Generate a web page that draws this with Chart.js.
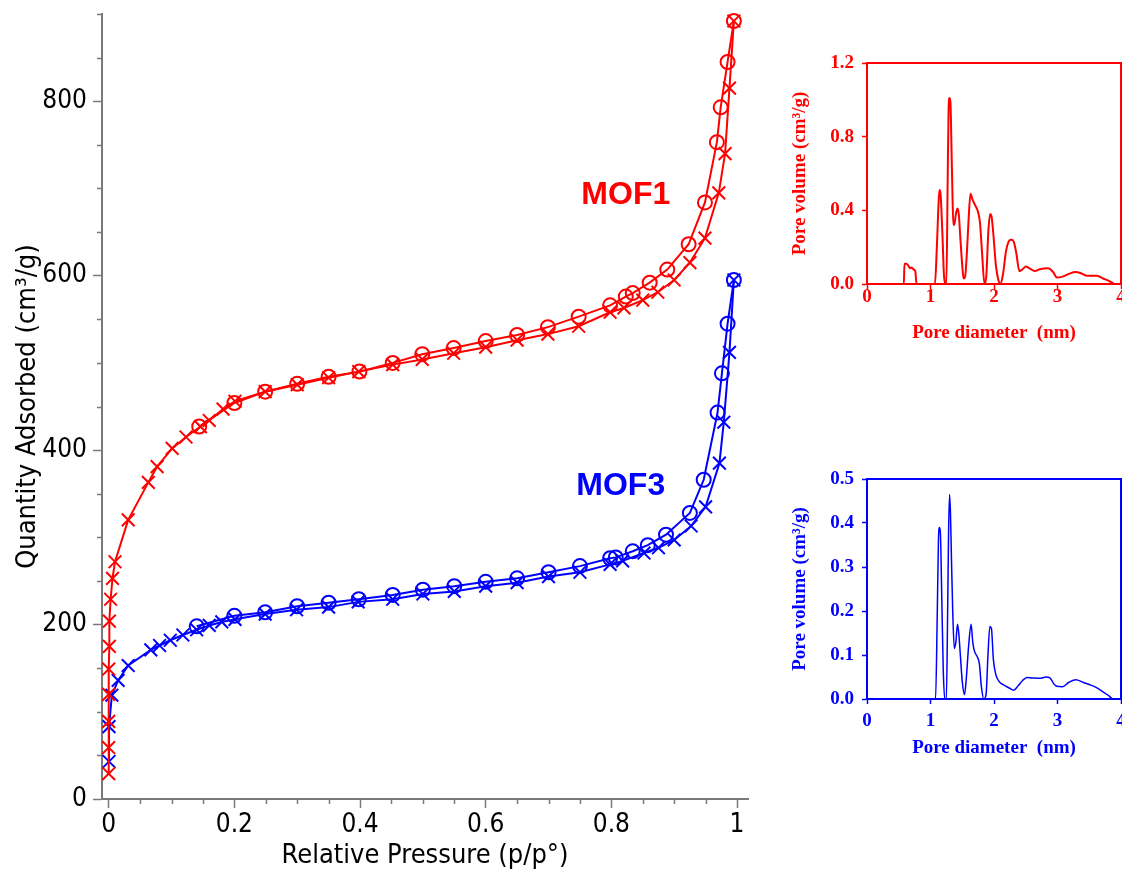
<!DOCTYPE html>
<html>
<head>
<meta charset="utf-8">
<script src="https://cdn.jsdelivr.net/npm/chart.js@4.4.1/dist/chart.umd.min.js"></script>
<style>
  html, body { margin: 0; padding: 0; background: #fff; }
  #wrap { position: relative; width: 1122px; height: 872px; overflow: hidden; }
  canvas { position: absolute; }
  #main { left: 0; top: 0; }
  #pore1 { left: 760px; top: 40px; }
  #pore3 { left: 760px; top: 460px; }
</style>
</head>
<body>
<div id="wrap">
  <canvas id="main" width="760" height="872"></canvas>
  <canvas id="pore1" width="362" height="310"></canvas>
  <canvas id="pore3" width="362" height="310"></canvas>
</div>
<script>
// ---- isotherm data (relative pressure / quantity adsorbed) ----
const mof1AdsP = [0, 0, 0, 0, 0, 0.001, 0.001, 0.003, 0.006, 0.010, 0.031, 0.063, 0.077, 0.101, 0.123, 0.146, 0.160, 0.182, 0.201, 0.249, 0.300, 0.350, 0.398, 0.452, 0.499, 0.549, 0.600, 0.650, 0.699, 0.748, 0.798, 0.820, 0.850, 0.874, 0.900, 0.925, 0.949, 0.971, 0.981, 0.988, 0.995];
const mof1AdsQ = [29, 59, 89, 120, 149, 175, 204, 229, 253, 272, 320, 363, 381, 402, 415, 427, 434, 447, 456, 467, 475, 483, 490, 498, 504, 511, 518, 526, 533, 542, 558, 563, 572, 581, 595, 615, 643, 695, 740, 815, 892];

const mof1DesP = [0.995, 0.985, 0.974, 0.968, 0.949, 0.923, 0.889, 0.861, 0.834, 0.823, 0.798, 0.748, 0.699, 0.650, 0.600, 0.549, 0.499, 0.452, 0.399, 0.350, 0.300, 0.249, 0.200, 0.144];
const mof1DesQ = [892, 845, 793, 753, 684, 636, 607, 592, 580, 576, 566, 553, 541, 532, 525, 517, 510, 500, 490, 484, 476, 467, 454, 427];

const mof3AdsP = [0.0005, 0.0005, 0.005, 0.015, 0.031, 0.067, 0.081, 0.098, 0.118, 0.140, 0.160, 0.180, 0.201, 0.249, 0.299, 0.350, 0.397, 0.452, 0.500, 0.550, 0.600, 0.650, 0.700, 0.750, 0.798, 0.818, 0.852, 0.875, 0.900, 0.927, 0.950, 0.972, 0.979, 0.988, 0.995];
const mof3AdsQ = [43, 83, 119, 136, 153, 171, 176, 182, 188, 194, 199, 203, 206, 212, 217, 220, 226, 229, 235, 238, 244, 248, 255, 260, 269, 273, 282, 288, 297, 313, 335, 385, 432, 512, 595];

const mof3DesP = [0.995, 0.985, 0.976, 0.969, 0.947, 0.925, 0.887, 0.858, 0.834, 0.807, 0.798, 0.750, 0.700, 0.650, 0.600, 0.550, 0.500, 0.452, 0.398, 0.350, 0.300, 0.249, 0.200, 0.140];
const mof3DesQ = [595, 545, 488, 443, 366, 328, 303, 291, 284, 277, 276, 267, 260, 253, 249, 244, 240, 234, 229, 225, 221, 214, 210, 198];

const pressureTicks = [0, 0.2, 0.4, 0.6, 0.8, 1];
const quantityTicks = [0, 200, 400, 600, 800];

// ---- pore size distributions ----
const pore1D = [0, 0.58, 0.59, 0.62, 0.65, 0.68, 0.70, 0.73, 0.76, 0.78, 1.07, 1.10, 1.12, 1.14, 1.155, 1.17, 1.19, 1.21, 1.23, 1.25, 1.27, 1.285, 1.30, 1.315, 1.33, 1.345, 1.36, 1.38, 1.40, 1.425, 1.445, 1.47, 1.50, 1.52, 1.545, 1.57, 1.60, 1.63, 1.66, 1.70, 1.75, 1.78, 1.81, 1.85, 1.88, 1.91, 1.94, 1.96, 1.99, 2.03, 2.07, 2.10, 2.14, 2.19, 2.23, 2.27, 2.31, 2.35, 2.40, 2.45, 2.50, 2.56, 2.64, 2.72, 2.85, 2.93, 2.99, 3.08, 3.18, 3.28, 3.36, 3.46, 3.62, 3.72, 3.82, 3.90, 4.0];
const pore1V = [0, 0, 0.11, 0.11, 0.10, 0.085, 0.09, 0.08, 0.07, 0, 0, 0.2, 0.38, 0.51, 0.50, 0.42, 0.25, 0.06, 0, 0, 0.55, 0.95, 1.01, 0.98, 0.75, 0.5, 0.32, 0.33, 0.38, 0.41, 0.38, 0.25, 0.10, 0.03, 0.04, 0.15, 0.35, 0.49, 0.46, 0.43, 0.39, 0.33, 0.18, 0, 0.05, 0.28, 0.38, 0.37, 0.27, 0.10, 0.02, 0, 0.05, 0.18, 0.23, 0.24, 0.23, 0.17, 0.07, 0.08, 0.095, 0.085, 0.07, 0.08, 0.085, 0.065, 0.035, 0.04, 0.055, 0.065, 0.06, 0.045, 0.045, 0.03, 0.015, 0, 0];

const pore3D = [0, 1.08, 1.105, 1.125, 1.14, 1.155, 1.175, 1.20, 1.225, 1.25, 1.27, 1.285, 1.30, 1.315, 1.33, 1.35, 1.375, 1.40, 1.425, 1.445, 1.47, 1.50, 1.535, 1.56, 1.60, 1.64, 1.665, 1.69, 1.74, 1.77, 1.80, 1.84, 1.875, 1.905, 1.935, 1.96, 1.99, 2.03, 2.08, 2.15, 2.24, 2.31, 2.38, 2.45, 2.52, 2.60, 2.72, 2.82, 2.88, 2.95, 2.99, 3.08, 3.18, 3.29, 3.40, 3.50, 3.60, 3.70, 3.80, 3.88, 4.0];
const pore3V = [0, 0, 0.18, 0.36, 0.39, 0.38, 0.25, 0.07, 0, 0, 0.2, 0.38, 0.465, 0.42, 0.32, 0.2, 0.115, 0.13, 0.17, 0.15, 0.10, 0.04, 0.01, 0.04, 0.12, 0.17, 0.13, 0.11, 0.095, 0.08, 0.03, 0, 0.01, 0.1, 0.165, 0.16, 0.09, 0.055, 0.04, 0.032, 0.025, 0.02, 0.03, 0.042, 0.049, 0.048, 0.047, 0.05, 0.048, 0.033, 0.029, 0.028, 0.038, 0.044, 0.038, 0.033, 0.027, 0.018, 0.008, 0, 0];

const diameterTicks = [0, 1, 2, 3, 4];
const volume1Ticks = [0, 0.4, 0.8, 1.2];
const volume3Ticks = [0, 0.1, 0.2, 0.3, 0.4, 0.5];

const RED = '#ff0000';
const BLUE = '#0000ff';
const AXIS = '#7a7a7a';
const sansFont = "'DejaVu Sans Condensed', 'DejaVu Sans', sans-serif";
const serifFont = "'Liberation Serif', 'Times New Roman', serif";

const pts = (xs, ys) => xs.map((x, i) => ({ x: x, y: ys[i] }));

// fixes the axis box so the plot area lands where it should
function fixBox(size) {
  return (scale) => {
    if (scale.isHorizontal()) scale.height = size;
    else scale.width = size;
    scale.paddingLeft = scale.paddingRight = scale.paddingTop = scale.paddingBottom = 0;
  };
}
const useTicks = (values) => (scale) => {
  scale.ticks = values.map(v => ({ value: v }));
};

// short unlabeled ticks between the labeled ones
const minorTicks = {
  id: 'minorTicks',
  afterDraw(chart, args, opts) {
    if (!opts.x) return;
    const { ctx, chartArea: a, scales } = chart;
    ctx.save();
    ctx.strokeStyle = opts.color;
    ctx.lineWidth = opts.width;
    ctx.beginPath();
    opts.x.forEach(v => {
      const px = Math.round(scales.x.getPixelForValue(v)) + 0.5;
      ctx.moveTo(px, a.bottom);
      ctx.lineTo(px, a.bottom + opts.len);
    });
    opts.y.forEach(v => {
      const py = Math.round(scales.y.getPixelForValue(v)) + 0.5;
      ctx.moveTo(a.left, py);
      ctx.lineTo(a.left - opts.len, py);
    });
    ctx.stroke();
    ctx.restore();
  }
};

const tags = {
  id: 'tags',
  afterDatasetsDraw(chart, args, opts) {
    if (!opts.items) return;
    const { ctx, scales } = chart;
    ctx.save();
    ctx.font = opts.font;
    ctx.textAlign = 'center';
    ctx.textBaseline = 'middle';
    opts.items.forEach(t => {
      ctx.fillStyle = t.color;
      ctx.fillText(t.text, scales.x.getPixelForValue(t.x), scales.y.getPixelForValue(t.y));
    });
    ctx.restore();
  }
};

const frame = {
  id: 'frame',
  afterDraw(chart, args, opts) {
    if (!opts.color) return;
    const { ctx, chartArea: a } = chart;
    ctx.save();
    ctx.strokeStyle = opts.color;
    ctx.lineWidth = opts.width;
    ctx.strokeRect(a.left, a.top, a.right - a.left, a.bottom - a.top);
    ctx.restore();
  }
};

function branch(label, xs, ys, color, style) {
  return {
    label: label,
    data: pts(xs, ys),
    showLine: true,
    borderColor: color,
    borderWidth: 2,
    tension: 0,
    pointStyle: style,
    pointRadius: style === 'circle' ? 7 : 9,
    pointBorderWidth: 2,
    pointBorderColor: color,
    pointBackgroundColor: 'rgba(0,0,0,0)',
    clip: false
  };
}

const minorP = [];
for (let i = 1; i < 20; i += 1) if (i % 4 !== 0) minorP.push(i * 0.05);
const minorQ = [];
for (let v = 50; v <= 900; v += 50) if (v % 200 !== 0) minorQ.push(v);

new Chart(document.getElementById('main'), {
  type: 'scatter',
  data: {
    datasets: [
      branch('MOF1 adsorption', mof1AdsP, mof1AdsQ, RED, 'crossRot'),
      branch('MOF1 desorption', mof1DesP, mof1DesQ, RED, 'circle'),
      branch('MOF3 adsorption', mof3AdsP, mof3AdsQ, BLUE, 'crossRot'),
      branch('MOF3 desorption', mof3DesP, mof3DesQ, BLUE, 'circle')
    ]
  },
  options: {
    responsive: false,
    animation: false,
    devicePixelRatio: 1,
    layout: { padding: { left: 0, top: 14, right: 12, bottom: 0 } },
    plugins: {
      legend: { display: false },
      tooltip: { enabled: false },
      minorTicks: { x: minorP, y: minorQ, len: 5, color: AXIS, width: 1.5 },
      tags: {
        font: "bold 32px 'Liberation Sans', Arial, sans-serif",
        items: [
          { text: 'MOF1', x: 0.823, y: 692, color: RED },
          { text: 'MOF3', x: 0.815, y: 359, color: BLUE }
        ]
      }
    },
    scales: {
      x: {
        type: 'linear',
        min: -0.0107,
        max: 1.0175,
        afterBuildTicks: useTicks(pressureTicks),
        afterFit: fixBox(73),
        border: { color: AXIS, width: 2 },
        grid: { drawOnChartArea: false, tickLength: 9, tickColor: AXIS, tickWidth: 1.5 },
        ticks: {
          color: '#000',
          padding: 2,
          maxRotation: 0,
          font: { family: sansFont, size: 26 },
          callback: v => String(+v.toFixed(1))
        },
        title: {
          display: true,
          text: 'Relative Pressure (p/p°)',
          color: '#000',
          font: { family: sansFont, size: 27 },
          padding: { top: 0, bottom: 0 }
        }
      },
      y: {
        type: 'linear',
        min: 0,
        max: 900,
        afterBuildTicks: useTicks(quantityTicks),
        afterFit: fixBox(102),
        border: { color: AXIS, width: 2 },
        grid: { drawOnChartArea: false, tickLength: 9, tickColor: AXIS, tickWidth: 1.5 },
        ticks: {
          color: '#000',
          padding: 6,
          font: { family: sansFont, size: 26 }
        },
        title: {
          display: true,
          text: 'Quantity Adsorbed (cm³/g)',
          color: '#000',
          font: { family: sansFont, size: 27 },
          padding: { top: 12, bottom: 0 }
        }
      }
    }
  },
  plugins: [minorTicks, tags]
});

function poreChart(id, xs, ys, color, yMax, yTicks, box) {
  return new Chart(document.getElementById(id), {
    type: 'line',
    data: {
      datasets: [{
        label: 'Pore volume',
        data: pts(xs, ys),
        borderColor: color,
        borderWidth: box.line,
        pointRadius: 0,
        tension: 0.3,
        cubicInterpolationMode: 'monotone'
      }]
    },
    options: {
      responsive: false,
      animation: false,
      devicePixelRatio: 1,
      layout: { padding: { left: 0, top: box.top, right: 1, bottom: 0 } },
      plugins: {
        legend: { display: false },
        tooltip: { enabled: false },
        frame: { color: color, width: 2 }
      },
      scales: {
        x: {
          type: 'linear',
          min: 0,
          max: 4,
          afterBuildTicks: useTicks(diameterTicks),
          afterFit: fixBox(box.xh),
          border: { color: color, width: 2 },
          grid: { drawOnChartArea: false, tickLength: 5, tickColor: color, tickWidth: 1.5 },
          ticks: {
            color: color,
            padding: box.xpad,
            maxRotation: 0,
            font: { family: serifFont, size: 19, weight: 'bold' },
            callback: v => String(v)
          },
          title: {
            display: true,
            text: 'Pore diameter  (nm)',
            color: color,
            font: { family: serifFont, size: 19, weight: 'bold' },
            padding: { top: 0, bottom: box.tb }
          }
        },
        y: {
          type: 'linear',
          min: 0,
          max: yMax,
          afterBuildTicks: useTicks(yTicks),
          afterFit: fixBox(107),
          border: { color: color, width: 2 },
          grid: { drawOnChartArea: false, tickLength: 5, tickColor: color, tickWidth: 1.5 },
          ticks: {
            color: color,
            padding: 8,
            font: { family: serifFont, size: 19, weight: 'bold' },
            callback: v => v.toFixed(1)
          },
          title: {
            display: true,
            text: 'Pore volume (cm³/g)',
            color: color,
            font: { family: serifFont, size: 19, weight: 'bold' },
            padding: { top: 29, bottom: 0 }
          }
        }
      }
    },
    plugins: [frame]
  });
}

poreChart('pore1', pore1D, pore1V, RED, 1.2, volume1Ticks, { top: 23, xh: 66, xpad: -3, tb: 6, line: 2 });
poreChart('pore3', pore3D, pore3V, BLUE, 0.5, volume3Ticks, { top: 19, xh: 71, xpad: 6, tb: 11, line: 1.5 });
</script>
</body>
</html>
